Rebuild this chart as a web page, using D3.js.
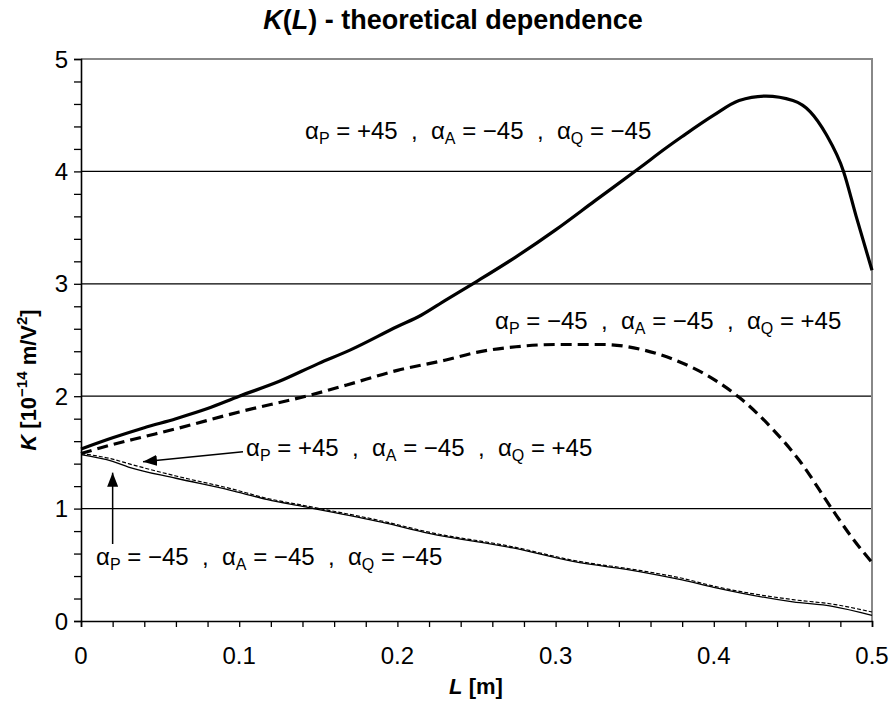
<!DOCTYPE html>
<html lang="en">
<head>
  <meta charset="utf8">
  <script type="text/javascript" src="https://cdn.jsdelivr.net/npm/d3@7"></script>
  <title>K(L)</title>
  <style>
    body { margin: 0; background: #fff; }
    text { font-family: "Liberation Sans", Arial, sans-serif; fill: #000; }
  </style>
</head>
<body>
  <div id="chart"></div>
<script type="text/javascript">

  var width = 893, height = 702;
  var margin = { left: 81, right: 21, top: 59, bottom: 81 };

  // series: alpha_P, alpha_A, alpha_Q
  // +45, -45, -45 (thick solid)
  var lPPM = [0, 0.02, 0.04, 0.06, 0.08, 0.1, 0.125, 0.15, 0.17, 0.2, 0.215, 0.23, 0.25, 0.275, 0.3, 0.325, 0.353, 0.37, 0.38, 0.4, 0.416, 0.433, 0.45, 0.461, 0.471, 0.482, 0.49, 0.5];
  var kPPM = [1.53, 1.63, 1.72, 1.80, 1.89, 2.0, 2.13, 2.29, 2.41, 2.62, 2.72, 2.85, 3.02, 3.24, 3.48, 3.74, 4.03, 4.21, 4.31, 4.50, 4.63, 4.67, 4.63, 4.53, 4.33, 4.0, 3.6, 3.12];
  // -45, -45, +45 (thick dashed)
  var lMMP = [0, 0.02, 0.04, 0.06, 0.1, 0.145, 0.168, 0.2, 0.23, 0.25, 0.275, 0.3, 0.33, 0.353, 0.374, 0.4, 0.416, 0.437, 0.454, 0.475, 0.488, 0.5];
  var kMMP = [1.49, 1.57, 1.64, 1.71, 1.86, 2.01, 2.10, 2.23, 2.32, 2.39, 2.44, 2.46, 2.46, 2.42, 2.33, 2.15, 1.99, 1.71, 1.43, 0.99, 0.73, 0.52];
  // +45, -45, +45 (thin dashed) and -45, -45, -45 (thin solid)
  var lThin = [0, 0.02, 0.03, 0.06, 0.094, 0.118, 0.14, 0.19, 0.22, 0.273, 0.311, 0.353, 0.38, 0.4, 0.45, 0.475, 0.5];
  var kPMP = [1.49, 1.44, 1.40, 1.29, 1.18, 1.09, 1.03, 0.89, 0.79, 0.66, 0.54, 0.45, 0.38, 0.31, 0.19, 0.15, 0.08];
  var kMMM = [1.48, 1.42, 1.37, 1.27, 1.165, 1.08, 1.02, 0.88, 0.78, 0.65, 0.53, 0.44, 0.365, 0.30, 0.17, 0.13, 0.05];

  var xTicks = [0, 0.1, 0.2, 0.3, 0.4, 0.5];
  var yTicks = [0, 1, 2, 3, 4, 5];

  var svg = d3.select("#chart").append("svg")
    .attr("width", width).attr("height", height);

  var x = d3.scaleLinear().domain([0, 0.5]).range([margin.left, width - margin.right]);
  var y = d3.scaleLinear().domain([0, 5]).range([height - margin.bottom, margin.top]);

  // arrow head
  svg.append("defs").append("marker")
    .attr("id", "head")
    .attr("viewBox", "0 0 14 11")
    .attr("markerWidth", 14).attr("markerHeight", 11)
    .attr("markerUnits", "userSpaceOnUse")
    .attr("refX", 14).attr("refY", 5.5)
    .attr("orient", "auto")
    .append("path").attr("d", "M0,0L14,5.5L0,11Z").attr("fill", "#000");

  // grid lines at 1..4
  svg.append("g").selectAll("line")
    .data(yTicks.slice(1, 5)).enter().append("line")
    .attr("x1", x(0)).attr("x2", x(0.5))
    .attr("y1", d => y(d)).attr("y2", d => y(d))
    .attr("stroke", "#000").attr("stroke-width", 1.3);

  // plot frame (top, right) grey
  svg.append("path")
    .attr("d", "M" + x(0) + "," + y(5) + "H" + x(0.5) + "V" + y(0))
    .attr("fill", "none").attr("stroke", "#888").attr("stroke-width", 2);

  // axes
  var xAxis = svg.append("g").attr("transform", "translate(0," + y(0) + ")")
    .call(d3.axisBottom(x).tickValues(d3.range(0, 0.5001, 0.02)).tickSize(6).tickFormat(""));
  var yAxis = svg.append("g").attr("transform", "translate(" + x(0) + ",0)")
    .call(d3.axisLeft(y).tickValues(d3.range(0, 5.001, 0.2)).tickSize(7).tickFormat(""));
  [xAxis, yAxis].forEach(function (a) {
    a.select(".domain").attr("stroke", "#000").attr("stroke-width", 1.6);
    a.selectAll(".tick line").attr("stroke", "#000").attr("stroke-width", 1.3);
  });

  svg.append("g").selectAll("text").data(xTicks).enter().append("text")
    .attr("x", d => x(d)).attr("y", y(0) + 43)
    .attr("text-anchor", "middle").style("font-size", "24px")
    .text(d => d === 0 ? "0" : d.toString());
  svg.append("g").selectAll("text").data(yTicks).enter().append("text")
    .attr("x", x(0) - 13).attr("y", d => y(d) + 8.5)
    .attr("text-anchor", "end").style("font-size", "24px")
    .text(d => d);

  // curves
  var line = d3.line().x(d => x(d[0])).y(d => y(d[1])).curve(d3.curveMonotoneX);
  function series(ls, ks, w, dash) {
    svg.append("path")
      .datum(ls.map((l, i) => [l, ks[i]]))
      .attr("d", line)
      .attr("fill", "none").attr("stroke", "#000")
      .attr("stroke-width", w)
      .attr("stroke-dasharray", dash);
  }
  series(lThin, kMMM, 1.3, null);
  series(lThin, kPMP, 1.2, "4,2");
  series(lMMP, kMMP, 3.2, "11,6");
  series(lPPM, kPPM, 3.2, null);

  // annotations
  function label(l, k, p, a, q) {
    var t = svg.append("text").attr("x", x(l)).attr("y", y(k)).style("font-size", "24px")
      .attr("xml:space", "preserve");
    [["P", p], ["A", a], ["Q", q]].forEach(function (s, i) {
      t.append("tspan").text((i ? "  ,  " : "") + "\u03b1");
      t.append("tspan").attr("dy", 5).style("font-size", "16px").text(s[0]);
      t.append("tspan").attr("dy", -5).text(" = " + s[1]);
    });
  }
  label(0.1416, 4.29, "+45", "\u221245", "\u221245");
  label(0.2617, 2.60, "\u221245", "\u221245", "+45");
  label(0.1043, 1.47, "+45", "\u221245", "+45");
  label(0.0095, 0.50, "\u221245", "\u221245", "\u221245");

  function arrow(l1, k1, l2, k2) {
    svg.append("line")
      .attr("x1", x(l1)).attr("y1", y(k1)).attr("x2", x(l2)).attr("y2", y(k2))
      .attr("stroke", "#000").attr("stroke-width", 1.5)
      .attr("marker-end", "url(#head)");
  }
  arrow(0.1024, 1.506, 0.0392, 1.417);
  arrow(0.02, 0.685, 0.02, 1.32);

  // title
  var title = svg.append("text").attr("x", 453).attr("y", 29)
    .attr("text-anchor", "middle").style("font-size", "27px").style("font-weight", "bold");
  title.append("tspan").style("font-style", "italic").text("K");
  title.append("tspan").text("(");
  title.append("tspan").style("font-style", "italic").text("L");
  title.append("tspan").text(") - theoretical dependence");

  // x label
  var xl = svg.append("text").attr("x", 476).attr("y", 694)
    .attr("text-anchor", "middle").style("font-size", "22px").style("font-weight", "bold");
  xl.append("tspan").style("font-style", "italic").text("L");
  xl.append("tspan").text(" [m]");

  // y label
  var yl = svg.append("text").attr("transform", "translate(36,380) rotate(-90)")
    .attr("text-anchor", "middle").style("font-size", "22px").style("font-weight", "bold");
  yl.append("tspan").style("font-style", "italic").text("K");
  yl.append("tspan").text(" [10");
  yl.append("tspan").attr("dy", -9).style("font-size", "15px").text("\u221214");
  yl.append("tspan").attr("dy", 9).text(" m/V");
  yl.append("tspan").attr("dy", -9).style("font-size", "15px").text("2");
  yl.append("tspan").attr("dy", 9).text("]");

</script>
</body>
</html>
